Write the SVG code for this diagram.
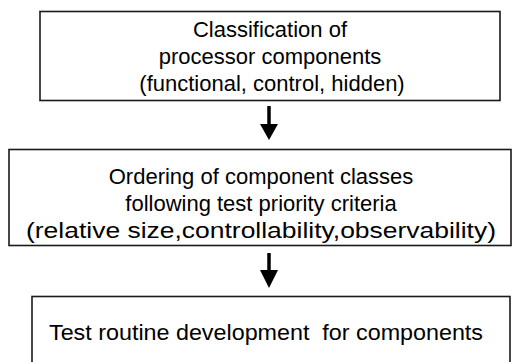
<svg xmlns="http://www.w3.org/2000/svg" width="513" height="362" viewBox="0 0 513 362">
<defs>
<style>
.box{fill:#fff;stroke:#1a1a1a;stroke-width:1.6}
.t{font-family:"Liberation Sans",Arial,sans-serif;font-size:22px;fill:#000;text-anchor:middle;white-space:pre}
.sh{stroke:#000;stroke-width:3.5}
.hd{fill:#000}
</style>
</defs>
<rect width="513" height="362" fill="#fff"/>
<g id="n1">
<rect class="box" x="40" y="11.5" width="460" height="89"/>
<text class="t" x="270" y="37">Classification of</text>
<text class="t" x="270" y="64">processor components</text>
<text class="t" x="272" y="91">(functional, control, hidden)</text>
</g>
<g id="n2">
<rect class="box" x="9" y="149.5" width="502" height="96"/>
<text class="t" x="261" y="184">Ordering of component classes</text>
<text class="t" x="261" y="211">following test priority criteria</text>
<text class="t" x="261" y="238" textLength="470" lengthAdjust="spacingAndGlyphs">(relative size,controllability,observability)</text>
</g>
<g id="n3">
<rect class="box" x="32" y="296.5" width="478" height="80"/>
<text class="t" x="266" y="340" textLength="434" lengthAdjust="spacingAndGlyphs">Test routine development  for components</text>
</g>
<g id="connectors">
<line class="sh" x1="269" y1="106" x2="269" y2="126"/>
<polygon class="hd" points="260,124 278,124 269,140"/>
<line class="sh" x1="269" y1="253" x2="269" y2="272"/>
<polygon class="hd" points="260,270 278,270 269,288"/>
</g>
</svg>
